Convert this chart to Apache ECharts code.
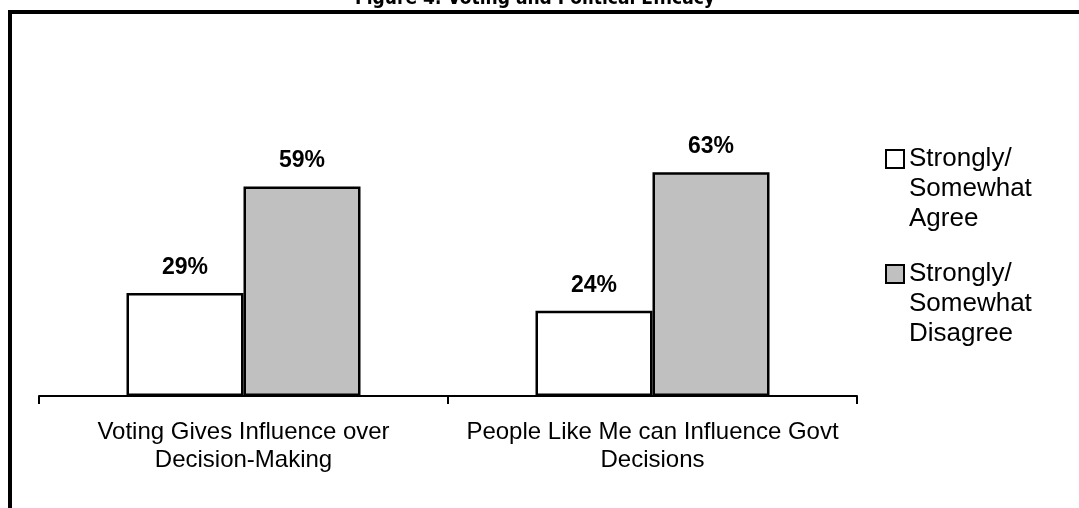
<!DOCTYPE html>
<html>
<head>
<meta charset="utf-8">
<script src="https://cdn.jsdelivr.net/npm/echarts@6/dist/echarts.min.js"></script>
<style>
html,body{margin:0;padding:0;background:#fff;}
#chart{width:1079px;height:508px;}
</style>
</head>
<body>
<div id="chart"></div>
<script>
const titleText = 'Figure 4: Voting and Political Efficacy';
const categories = ['Voting Gives Influence over\nDecision-Making', 'People Like Me can Influence Govt\nDecisions'];
const seriesNames = ['Strongly/\nSomewhat\nAgree', 'Strongly/\nSomewhat\nDisagree'];
const agreeValues = [29, 24];
const disagreeValues = [59, 63];
const seriesColors = ['#FFFFFF', '#C0C0C0'];

const chart = echarts.init(document.getElementById('chart'), null, {renderer: 'canvas'});
const labelCfg = {
  show: true, position: 'top', distance: 14,
  formatter: '{c}%', fontFamily: 'Arial, "Liberation Sans", sans-serif',
  fontSize: 23, fontWeight: 'bold', color: '#000'
};
// square icon in the top of a tall icon box so it lines up with the first text line
const legendIcon = 'path://M0,0H18V18H0Z M0,78';
chart.setOption({
  animation: false,
  backgroundColor: '#fff',
  title: {
    text: titleText, left: 355, top: -10, padding: 0,
    textStyle: {fontFamily: '"Liberation Sans Narrow", "DejaVu Sans Condensed", sans-serif', fontWeight: 'bold', fontSize: 19, color: '#000'}
  },
  graphic: [{
    type: 'rect', silent: true, z: 100,
    shape: {x: 10, y: 12, width: 1300, height: 700},
    style: {fill: 'none', stroke: '#000', lineWidth: 4}
  }],
  legend: {
    orient: 'vertical', left: 885, top: 144, padding: 0, itemGap: 25,
    itemWidth: 18, itemHeight: 78, icon: legendIcon,
    itemStyle: {borderColor: '#000', borderWidth: 2},
    data: seriesNames,
    textStyle: {fontFamily: 'Arial, "Liberation Sans", sans-serif', fontSize: 26, lineHeight: 30, color: '#000'}
  },
  grid: {left: 39, right: 222, top: 112, bottom: 112, containLabel: false},
  xAxis: {
    type: 'category', data: categories,
    axisLine: {lineStyle: {color: '#000', width: 2}},
    axisTick: {show: true, length: 8, lineStyle: {color: '#000', width: 2}},
    axisLabel: {margin: 22, fontFamily: 'Arial, "Liberation Sans", sans-serif', fontSize: 24, lineHeight: 28, color: '#000', interval: 0}
  },
  yAxis: {type: 'value', min: 0, max: 80, show: false, splitLine: {show: false}},
  series: [
    {name: seriesNames[0], type: 'bar', data: agreeValues, barWidth: 117, barGap: '0%',
     itemStyle: {color: seriesColors[0], borderColor: '#000', borderWidth: 2.5}, label: labelCfg},
    {name: seriesNames[1], type: 'bar', data: disagreeValues, barWidth: 117, barGap: '0%',
     itemStyle: {color: seriesColors[1], borderColor: '#000', borderWidth: 2.5}, label: labelCfg}
  ]
});
</script>
</body>
</html>
